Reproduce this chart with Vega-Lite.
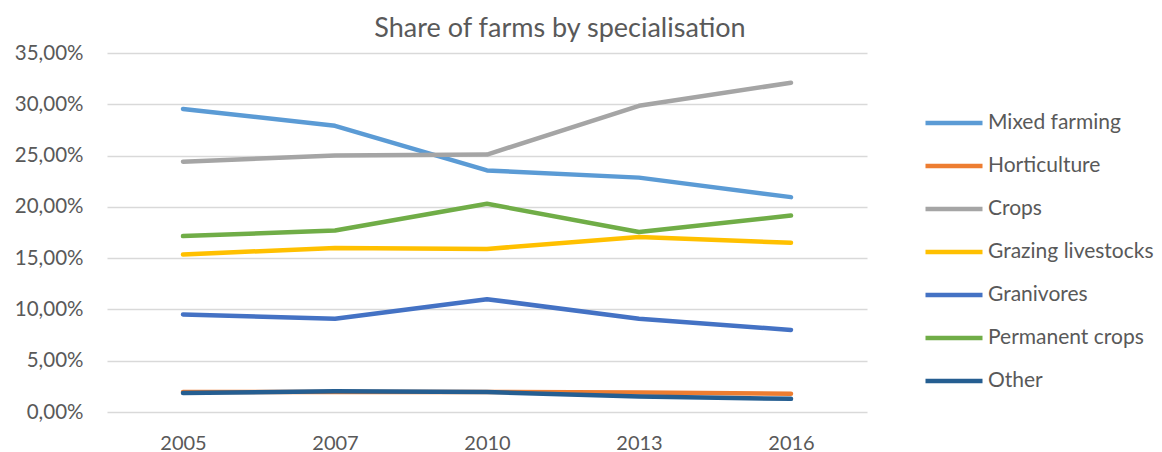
{
  "$schema": "https://vega.github.io/schema/vega-lite/v6.json",
  "width": 760,
  "height": 359,
  "autosize": {"type": "none"},
  "padding": {"left": 107, "top": 53, "right": 295, "bottom": 40},
  "background": "white",
  "title": {
    "text": "Share of farms by specialisation",
    "font": "Lato",
    "fontSize": 27,
    "fontWeight": "normal",
    "color": "#595959",
    "anchor": "middle",
    "dx": 73,
    "offset": 0
  },
  "config": {
    "view": {"stroke": null},
    "font": "Lato"
  },
  "data": {
    "values": [
      {"year": "2005", "series": "Mixed farming", "share": 0.2955},
      {"year": "2007", "series": "Mixed farming", "share": 0.2790},
      {"year": "2010", "series": "Mixed farming", "share": 0.2355},
      {"year": "2013", "series": "Mixed farming", "share": 0.2285},
      {"year": "2016", "series": "Mixed farming", "share": 0.2095},
      {"year": "2005", "series": "Horticulture", "share": 0.0195},
      {"year": "2007", "series": "Horticulture", "share": 0.0195},
      {"year": "2010", "series": "Horticulture", "share": 0.0195},
      {"year": "2013", "series": "Horticulture", "share": 0.0190},
      {"year": "2016", "series": "Horticulture", "share": 0.0178},
      {"year": "2005", "series": "Crops", "share": 0.2440},
      {"year": "2007", "series": "Crops", "share": 0.2500},
      {"year": "2010", "series": "Crops", "share": 0.2510},
      {"year": "2013", "series": "Crops", "share": 0.2985},
      {"year": "2016", "series": "Crops", "share": 0.3210},
      {"year": "2005", "series": "Grazing livestocks", "share": 0.1535},
      {"year": "2007", "series": "Grazing livestocks", "share": 0.1600},
      {"year": "2010", "series": "Grazing livestocks", "share": 0.1590},
      {"year": "2013", "series": "Grazing livestocks", "share": 0.1705},
      {"year": "2016", "series": "Grazing livestocks", "share": 0.1650},
      {"year": "2005", "series": "Granivores", "share": 0.0950},
      {"year": "2007", "series": "Granivores", "share": 0.0910},
      {"year": "2010", "series": "Granivores", "share": 0.1100},
      {"year": "2013", "series": "Granivores", "share": 0.0910},
      {"year": "2016", "series": "Granivores", "share": 0.0800},
      {"year": "2005", "series": "Permanent crops", "share": 0.1715},
      {"year": "2007", "series": "Permanent crops", "share": 0.1770},
      {"year": "2010", "series": "Permanent crops", "share": 0.2030},
      {"year": "2013", "series": "Permanent crops", "share": 0.1755},
      {"year": "2016", "series": "Permanent crops", "share": 0.1915},
      {"year": "2005", "series": "Other", "share": 0.0185},
      {"year": "2007", "series": "Other", "share": 0.0203},
      {"year": "2010", "series": "Other", "share": 0.0195},
      {"year": "2013", "series": "Other", "share": 0.0150},
      {"year": "2016", "series": "Other", "share": 0.0128}
    ]
  },
  "mark": {"type": "line", "strokeWidth": 4.5, "strokeCap": "round", "strokeJoin": "round"},
  "encoding": {
    "x": {
      "field": "year",
      "type": "ordinal",
      "scale": {"type": "point", "padding": 0.5},
      "axis": {
        "title": null,
        "domain": false,
        "ticks": false,
        "grid": false,
        "labelAngle": 0,
        "labelFont": "Lato",
        "labelFontSize": 20,
        "labelColor": "#595959",
        "labelPadding": 21
      }
    },
    "y": {
      "field": "share",
      "type": "quantitative",
      "scale": {"domain": [0, 0.35], "nice": false},
      "axis": {
        "title": null,
        "values": [0, 0.05, 0.1, 0.15, 0.2, 0.25, 0.3, 0.35],
        "labelExpr": "replace(format(datum.value, '.2%'), '.', ',')",
        "domain": false,
        "ticks": false,
        "grid": true,
        "gridColor": "#D9D9D9",
        "gridWidth": 1.5,
        "labelFont": "Lato",
        "labelFontSize": 20.5,
        "labelColor": "#595959",
        "labelPadding": 24
      }
    },
    "color": {
      "field": "series",
      "type": "nominal",
      "sort": ["Mixed farming", "Horticulture", "Crops", "Grazing livestocks", "Granivores", "Permanent crops", "Other"],
      "scale": {
        "domain": ["Mixed farming", "Horticulture", "Crops", "Grazing livestocks", "Granivores", "Permanent crops", "Other"],
        "range": ["#5B9BD5", "#ED7D31", "#A5A5A5", "#FFC000", "#4472C4", "#70AD47", "#255E91"]
      },
      "legend": {
        "title": null,
        "orient": "none",
        "legendX": 816,
        "legendY": 39,
        "symbolType": "stroke",
        "symbolSize": 3249,
        "symbolStrokeWidth": 4.5,
        "labelFont": "Lato",
        "labelFontSize": 21,
        "labelColor": "#595959",
        "labelOffset": 3,
        "labelLimit": 400,
        "rowPadding": 2
      }
    }
  }
}
